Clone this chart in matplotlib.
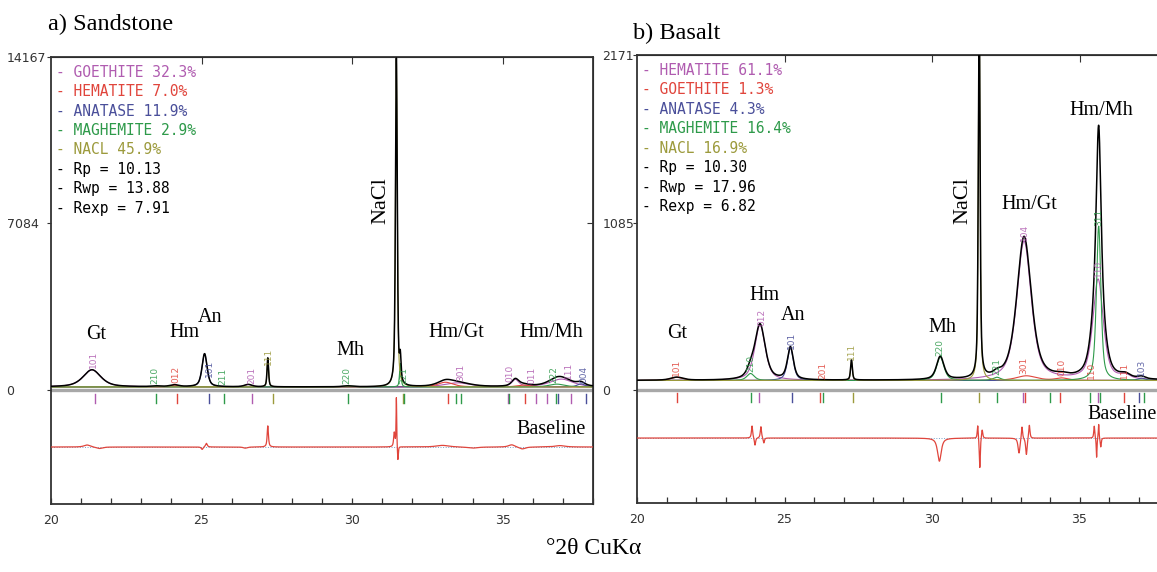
import numpy as np
import matplotlib.pyplot as plt
from matplotlib.ticker import MultipleLocator

phase_colors = ['#b05cb0', '#e0453c', '#4a4f9a', '#2e9a4a', '#9c9a3c']

# ---- a) Sandstone ----
sand_names = ['GOETHITE', 'HEMATITE', 'ANATASE', 'MAGHEMITE', 'NACL']
sand_pct = [32.3, 7.0, 11.9, 2.9, 45.9]
sand_stats = ['Rp = 10.13', 'Rwp = 13.88', 'Rexp = 7.91']
sand_yticks = [0, 7084, 14167]
sand_bg = 130
# peaks: phase index, 2theta, height, fwhm
sand_phase = [0, 0, 0, 0, 0, 1, 1, 1, 2, 2, 3, 3, 3, 3, 4, 4]
sand_pos = [21.36, 26.55, 33.50, 35.42, 36.95, 24.10, 33.10, 35.70, 25.10, 37.60,
            23.50, 29.85, 31.60, 36.80, 27.20, 31.47]
sand_height = [730, 100, 170, 300, 330, 80, 200, 80, 1410, 130,
               30, 40, 1000, 120, 1230, 13950]
sand_fwhm = [0.70, 0.30, 1.00, 0.28, 0.90, 0.35, 0.60, 0.50, 0.20, 0.30,
             0.40, 0.40, 0.06, 0.60, 0.06, 0.07]
sand_hkl_pos = [21.40, 23.46, 24.16, 25.26, 25.70, 26.67, 27.22, 29.83, 31.73,
                33.60, 35.25, 35.97, 36.70, 37.18, 37.70]
sand_hkl_text = ['101', '210', '012', '101', '211', '201', '111', '220', '221',
                 '301', '010', '011', '222', '111', '004']
sand_hkl_phase = [0, 3, 1, 2, 3, 0, 4, 3, 3, 0, 0, 0, 3, 0, 2]
sand_tick_pos = [21.46, 23.48, 24.20, 25.25, 25.76, 26.68, 27.37, 29.86, 31.68, 31.72,
                 33.17, 33.46, 33.60, 35.18, 35.22, 35.74, 36.10, 36.48, 36.78, 36.84,
                 37.28, 37.78]
sand_tick_phase = [0, 3, 1, 2, 3, 0, 4, 3, 4, 3, 1, 3, 3, 0, 3, 1, 0, 0, 3, 2, 0, 2]
sand_diff_pos = [21.20, 21.60, 25.02, 25.16, 26.45, 27.20, 31.40, 31.47, 31.52,
                 33.00, 34.00, 35.30, 35.65, 36.90]
sand_diff_amp = [90, -70, -110, 160, -50, 900, 600, 2100, -650, 70, -50, 100, -90, 60]
sand_diff_w = [0.25, 0.25, 0.07, 0.07, 0.15, 0.05, 0.05, 0.025, 0.035, 0.5, 0.4,
               0.25, 0.25, 0.4]

# ---- b) Basalt ----
bas_names = ['HEMATITE', 'GOETHITE', 'ANATASE', 'MAGHEMITE', 'NACL']
bas_pct = [61.1, 1.3, 4.3, 16.4, 16.9]
bas_stats = ['Rp = 10.30', 'Rwp = 17.96', 'Rexp = 6.82']
bas_yticks = [0, 1085, 2171]
bas_bg = 62
bas_phase = [0, 0, 0, 0, 1, 1, 1, 2, 2, 3, 3, 3, 3, 4, 4]
bas_pos = [24.17, 33.12, 35.63, 36.55, 21.35, 33.20, 34.40, 25.20, 37.10,
           23.85, 30.28, 32.20, 35.65, 27.27, 31.60]
bas_height = [360, 900, 650, 25, 20, 30, 15, 210, 15, 45, 150, 20, 1000, 130, 2400]
bas_fwhm = [0.42, 0.58, 0.42, 0.40, 0.50, 0.80, 0.50, 0.24, 0.30, 0.30, 0.30, 0.30,
            0.18, 0.07, 0.07]
bas_hkl_pos = [21.34, 23.85, 24.22, 25.24, 26.30, 27.28, 30.27, 32.19, 33.10, 33.15,
               34.40, 35.40, 35.63, 35.66, 36.51, 37.11]
bas_hkl_text = ['101', '210', '012', '101', '201', '111', '220', '221', '301', '104',
                '010', '110', '110', '311', '111', '103']
bas_hkl_phase = [1, 3, 0, 2, 1, 4, 3, 3, 1, 0, 1, 1, 0, 3, 1, 2]
bas_tick_pos = [21.36, 23.86, 24.15, 25.25, 26.20, 26.30, 27.32, 30.30, 31.61, 32.22,
                33.07, 33.15, 34.00, 34.34, 35.37, 35.63, 35.71, 36.51, 37.02, 37.19]
bas_tick_phase = [1, 3, 0, 2, 1, 3, 4, 3, 4, 3, 0, 1, 3, 1, 3, 0, 3, 1, 2, 3]
bas_diff_pos = [23.90, 24.00, 24.20, 24.30, 30.25, 31.55, 31.62, 31.70, 32.95, 33.05,
                33.20, 33.30, 35.50, 35.58, 35.65, 35.72]
bas_diff_amp = [80, -50, 75, -35, -150, 90, -200, 60, -100, 85, -110, 90, 80, -130, 95, -60]
bas_diff_w = [0.05, 0.05, 0.05, 0.05, 0.15, 0.04, 0.04, 0.05, 0.08, 0.05, 0.06, 0.05,
              0.04, 0.03, 0.03, 0.04]

two_theta = np.linspace(20, 38, 3601)


def pv(x, c, h, w, eta=0.6):
    d = (x - c) / (w / 2)
    return h * (eta / (1 + d ** 2) + (1 - eta) * np.exp(-np.log(2) * d ** 2))


def draw_panel(ax, names, pct, stats, yticks, bg, phase, pos, height, fwhm,
               hkl_pos, hkl_text, hkl_phase, tick_pos, tick_phase,
               diff_pos, diff_amp, diff_w, ylo, diff_frac):
    ymax = yticks[-1]
    ax.set_xlim(20, 38)
    ax.set_ylim(ylo, ymax)

    comps = []
    for p in range(5):
        y = np.zeros_like(two_theta)
        for ph, c, h, w in zip(phase, pos, height, fwhm):
            if ph == p:
                y += pv(two_theta, c, h, w)
        comps.append(y)
    obs = bg + sum(comps)

    ax.axhline(0, color='#a8a8a8', lw=2.4, zorder=1)
    for p in range(5):
        ax.plot(two_theta, bg + comps[p], color=phase_colors[p], lw=0.8, zorder=2)
    ax.plot(two_theta, obs, color='black', lw=1.1, zorder=3)

    # hkl labels
    pad = 0.004 * (ymax - ylo)
    for c, t, ph in zip(hkl_pos, hkl_text, hkl_phase):
        yv = bg + np.interp(c, two_theta, comps[ph])
        ax.text(c, yv + pad, t, rotation=90, ha='center', va='bottom', fontsize=6.5,
                color=phase_colors[ph], alpha=0.85, family='DejaVu Sans', zorder=4)

    # bragg positions
    trans = ax.get_xaxis_transform()
    for c, ph in zip(tick_pos, tick_phase):
        ax.plot([c, c], [0.226, 0.245], transform=trans, color=phase_colors[ph], lw=1.0)

    # difference curve
    off = ylo + diff_frac * (ymax - ylo)
    diff = np.zeros_like(two_theta)
    for c, a, w in zip(diff_pos, diff_amp, diff_w):
        diff += pv(two_theta, c, a, w, eta=0.8)
    ax.axhline(off, color='#7aa0c8', lw=0.7, ls=':', zorder=1)
    ax.plot(two_theta, off + diff, color='#e0453c', lw=0.9, zorder=3)

    # phase legend
    lines = ['- %s %.1f%%' % (n, v) for n, v in zip(names, pct)] + ['- ' + s for s in stats]
    cols = phase_colors + ['black'] * 3
    for i, (s, col) in enumerate(zip(lines, cols)):
        ax.text(0.009, 0.966 - i * 0.0435, s, transform=ax.transAxes, color=col,
                family='DejaVu Sans Mono', fontsize=10.5, va='center', ha='left')

    # axes styling
    ax.set_yticks(yticks)
    ax.set_yticklabels([str(v) for v in yticks])
    ax.xaxis.set_major_locator(MultipleLocator(5))
    ax.xaxis.set_minor_locator(MultipleLocator(1))
    ax.tick_params(axis='x', which='both', direction='in', length=4, width=0.9,
                   labelsize=9, pad=7, colors='#333333')
    ax.tick_params(axis='y', direction='out', length=3, width=0.8, labelsize=9,
                   colors='#333333')
    for lab in ax.get_yticklabels():
        lab.set_horizontalalignment('left')
    for sp in ax.spines.values():
        sp.set_color('#333333')
        sp.set_linewidth(1.3)
    top = ax.secondary_xaxis('top')
    top.set_xticks([25, 30, 35])
    top.tick_params(direction='in', length=5, labeltop=False, colors='#333333')
    right = ax.secondary_yaxis('right')
    right.set_yticks([yticks[1]])
    right.tick_params(direction='in', length=4, labelright=False, colors='#333333')


fig = plt.figure(figsize=(11.57, 5.72), dpi=100)
axL = fig.add_axes([51 / 1157, 68 / 572, 542 / 1157, 447 / 572])
axR = fig.add_axes([637 / 1157, 69 / 572, 531 / 1157, 448 / 572])

draw_panel(axL, sand_names, sand_pct, sand_stats, sand_yticks, sand_bg,
           sand_phase, sand_pos, sand_height, sand_fwhm,
           sand_hkl_pos, sand_hkl_text, sand_hkl_phase, sand_tick_pos, sand_tick_phase,
           sand_diff_pos, sand_diff_amp, sand_diff_w, -4850, 0.1275)
draw_panel(axR, bas_names, bas_pct, bas_stats, bas_yticks, bas_bg,
           bas_phase, bas_pos, bas_height, bas_fwhm,
           bas_hkl_pos, bas_hkl_text, bas_hkl_phase, bas_tick_pos, bas_tick_phase,
           bas_diff_pos, bas_diff_amp, bas_diff_w, -732, 0.145)
axL.tick_params(axis='y', pad=29)
axR.tick_params(axis='y', pad=22)

serif = 'Liberation Serif'
# peak annotations (sandstone)
for t, x, y in [('Gt', 21.5, 2340), ('Hm', 24.45, 2425), ('An', 25.28, 3105),
                ('Mh', 29.93, 1700), ('Hm/Gt', 33.47, 2425), ('Hm/Mh', 36.63, 2425),
                ('Baseline', 36.6, -1700)]:
    axL.text(x, y, t, family=serif, fontsize=14.5, ha='center', va='center')
axL.text(30.97, 8040, 'NaCl', family=serif, fontsize=16, rotation=90,
         ha='center', va='center')
# peak annotations (basalt)
for t, x, y in [('Gt', 21.37, 366), ('Hm', 24.31, 615), ('An', 25.3, 480),
                ('Mh', 30.36, 405), ('Hm/Gt', 33.3, 1200), ('Hm/Mh', 35.75, 1810),
                ('Baseline', 36.44, -159)]:
    axR.text(x, y, t, family=serif, fontsize=14.5, ha='center', va='center')
axR.text(31.05, 1225, 'NaCl', family=serif, fontsize=16, rotation=90,
         ha='center', va='center')

fig.text(48 / 1157, 1 - 24 / 572, 'a) Sandstone', family=serif, fontsize=17.5,
         ha='left', va='center')
fig.text(633 / 1157, 1 - 33 / 572, 'b) Basalt', family=serif, fontsize=17.5,
         ha='left', va='center')
fig.text(594 / 1157, 1 - 548 / 572, '°2θ CuKα', family=serif, fontsize=17,
         ha='center', va='center')

fig.savefig('out.png', dpi=100)
